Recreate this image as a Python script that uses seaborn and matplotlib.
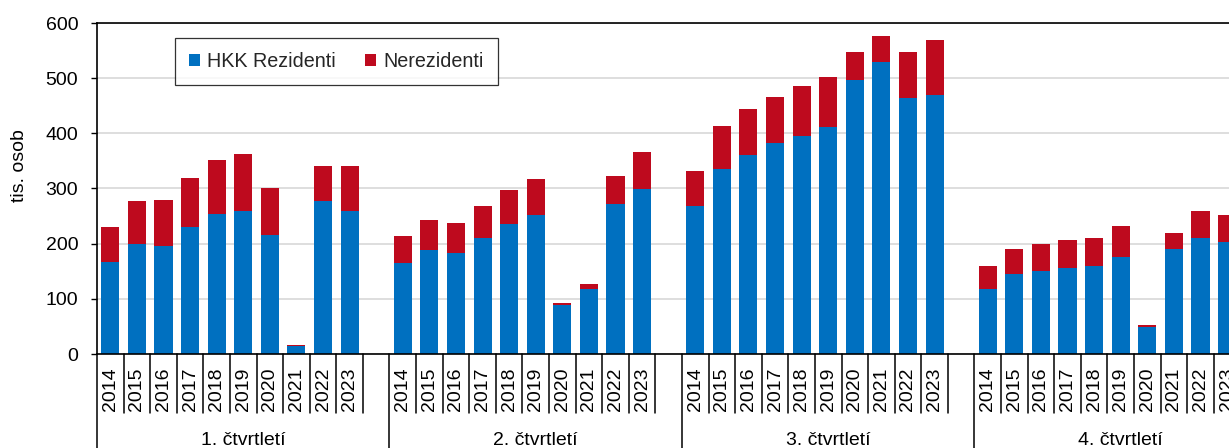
import matplotlib
matplotlib.use("Agg")
import matplotlib.pyplot as plt
import matplotlib.transforms as mtransforms
import numpy as np
import pandas as pd
import seaborn as sns

sns.set_theme(style="white")
plt.rcParams["font.family"] = ["Liberation Sans", "DejaVu Sans"]

# ── data (tis. osob) ─────────────────────────────────────────────────────────

years = [2014, 2015, 2016, 2017, 2018, 2019, 2020, 2021, 2022, 2023]
quarters = ["1. čtvrtletí", "2. čtvrtletí", "3. čtvrtletí", "4. čtvrtletí"]

res_q1 = [166, 199, 196, 230, 254, 259, 216, 15, 277, 259]
non_q1 = [65, 78, 83, 89, 98, 103, 85, 2, 64, 81]
res_q2 = [165, 188, 183, 210, 235, 252, 89, 118, 271, 299]
non_q2 = [48, 55, 54, 59, 62, 65, 4, 8, 52, 67]
res_q3 = [268, 335, 361, 382, 396, 411, 497, 529, 464, 469]
non_q3 = [64, 78, 84, 83, 89, 92, 50, 47, 84, 100]
res_q4 = [118, 145, 150, 155, 159, 176, 49, 191, 210, 203]
non_q4 = [41, 45, 49, 52, 51, 56, 4, 29, 49, 49]

residents = [res_q1, res_q2, res_q3, res_q4]
nonresidents = [non_q1, non_q2, non_q3, non_q4]

BLUE = "#0070C0"
RED = "#BE0A1E"
SLOTS = len(years) + 1  # ten years plus an empty gap slot per quarter

rows = []
for q, name in enumerate(quarters):
    for i, year in enumerate(years):
        rows.append({
            "quarter": name,
            "year": year,
            "pos": q * SLOTS + i,
            "rezidenti": residents[q][i],
            "nerezidenti": nonresidents[q][i],
        })
df = pd.DataFrame(rows)
df["total"] = df["rezidenti"] + df["nerezidenti"]

# ── figure ───────────────────────────────────────────────────────────────────

W, H = 1229, 448
fig = plt.figure(figsize=(W / 100, H / 100), dpi=100)
slot_px = 26.59
ax = fig.add_axes([97 / W, 94 / H, slot_px * len(quarters) * SLOTS / W, 331 / H])

sns.barplot(data=df, x="pos", y="total", native_scale=True, width=0.68,
            color=RED, saturation=1, errorbar=None, linewidth=0,
            label="Nerezidenti", ax=ax)
sns.barplot(data=df, x="pos", y="rezidenti", native_scale=True, width=0.68,
            color=BLUE, saturation=1, errorbar=None, linewidth=0,
            label="HKK Rezidenti", ax=ax)

ax.set_xlim(-0.5, len(quarters) * SLOTS - 0.5)
ax.set_ylim(0, 600)
ax.set_yticks(np.arange(0, 601, 100))
ax.yaxis.grid(True, color="#D4D4D4", linewidth=1.1)
ax.set_axisbelow(True)

for side in ["left", "top", "bottom", "right"]:
    ax.spines[side].set_color("black")
    ax.spines[side].set_linewidth(1.2)

ax.tick_params(axis="y", left=True, length=4.5, width=1, color="black",
               pad=9, labelsize=14, labelcolor="black")

ax.set_xticks(df["pos"])
ax.set_xticklabels(df["year"], rotation=90, fontsize=14, color="black")
ax.tick_params(axis="x", bottom=True, length=0, pad=9.5)
ax.set_xlabel("")

ax.set_ylabel("tis. osob", fontsize=14, color="black")
ax.yaxis.set_label_coords(-0.059, 0.568)

# multi-level category axis: short year dividers, long quarter dividers
trans = mtransforms.blended_transform_factory(ax.transData, ax.transAxes)
for k in range(len(quarters) * SLOTS):
    x = k - 0.5
    y_end = -0.30 if k % SLOTS == 0 else -0.178
    ax.plot([x, x], [0, y_end], color="black", linewidth=1.1,
            transform=trans, clip_on=False)

for q, name in enumerate(quarters):
    center = q * SLOTS + (SLOTS - 1) / 2
    ax.text(center, -0.275, name, transform=trans, ha="center",
            va="baseline", fontsize=14, color="black")

handles, labels = ax.get_legend_handles_labels()
order = [labels.index("HKK Rezidenti"), labels.index("Nerezidenti")]
leg = ax.legend([handles[i] for i in order], [labels[i] for i in order],
                ncol=2, loc="upper left", bbox_to_anchor=(0.0666, 0.955),
                borderaxespad=0, fontsize=14.2, frameon=True, fancybox=False,
                handlelength=0.57, handleheight=0.57, handletextpad=0.35,
                columnspacing=1.5, borderpad=0.7)
leg.get_frame().set_edgecolor("black")
leg.get_frame().set_linewidth(0.9)

fig.savefig("out.png", dpi=100)
plt.close(fig)
